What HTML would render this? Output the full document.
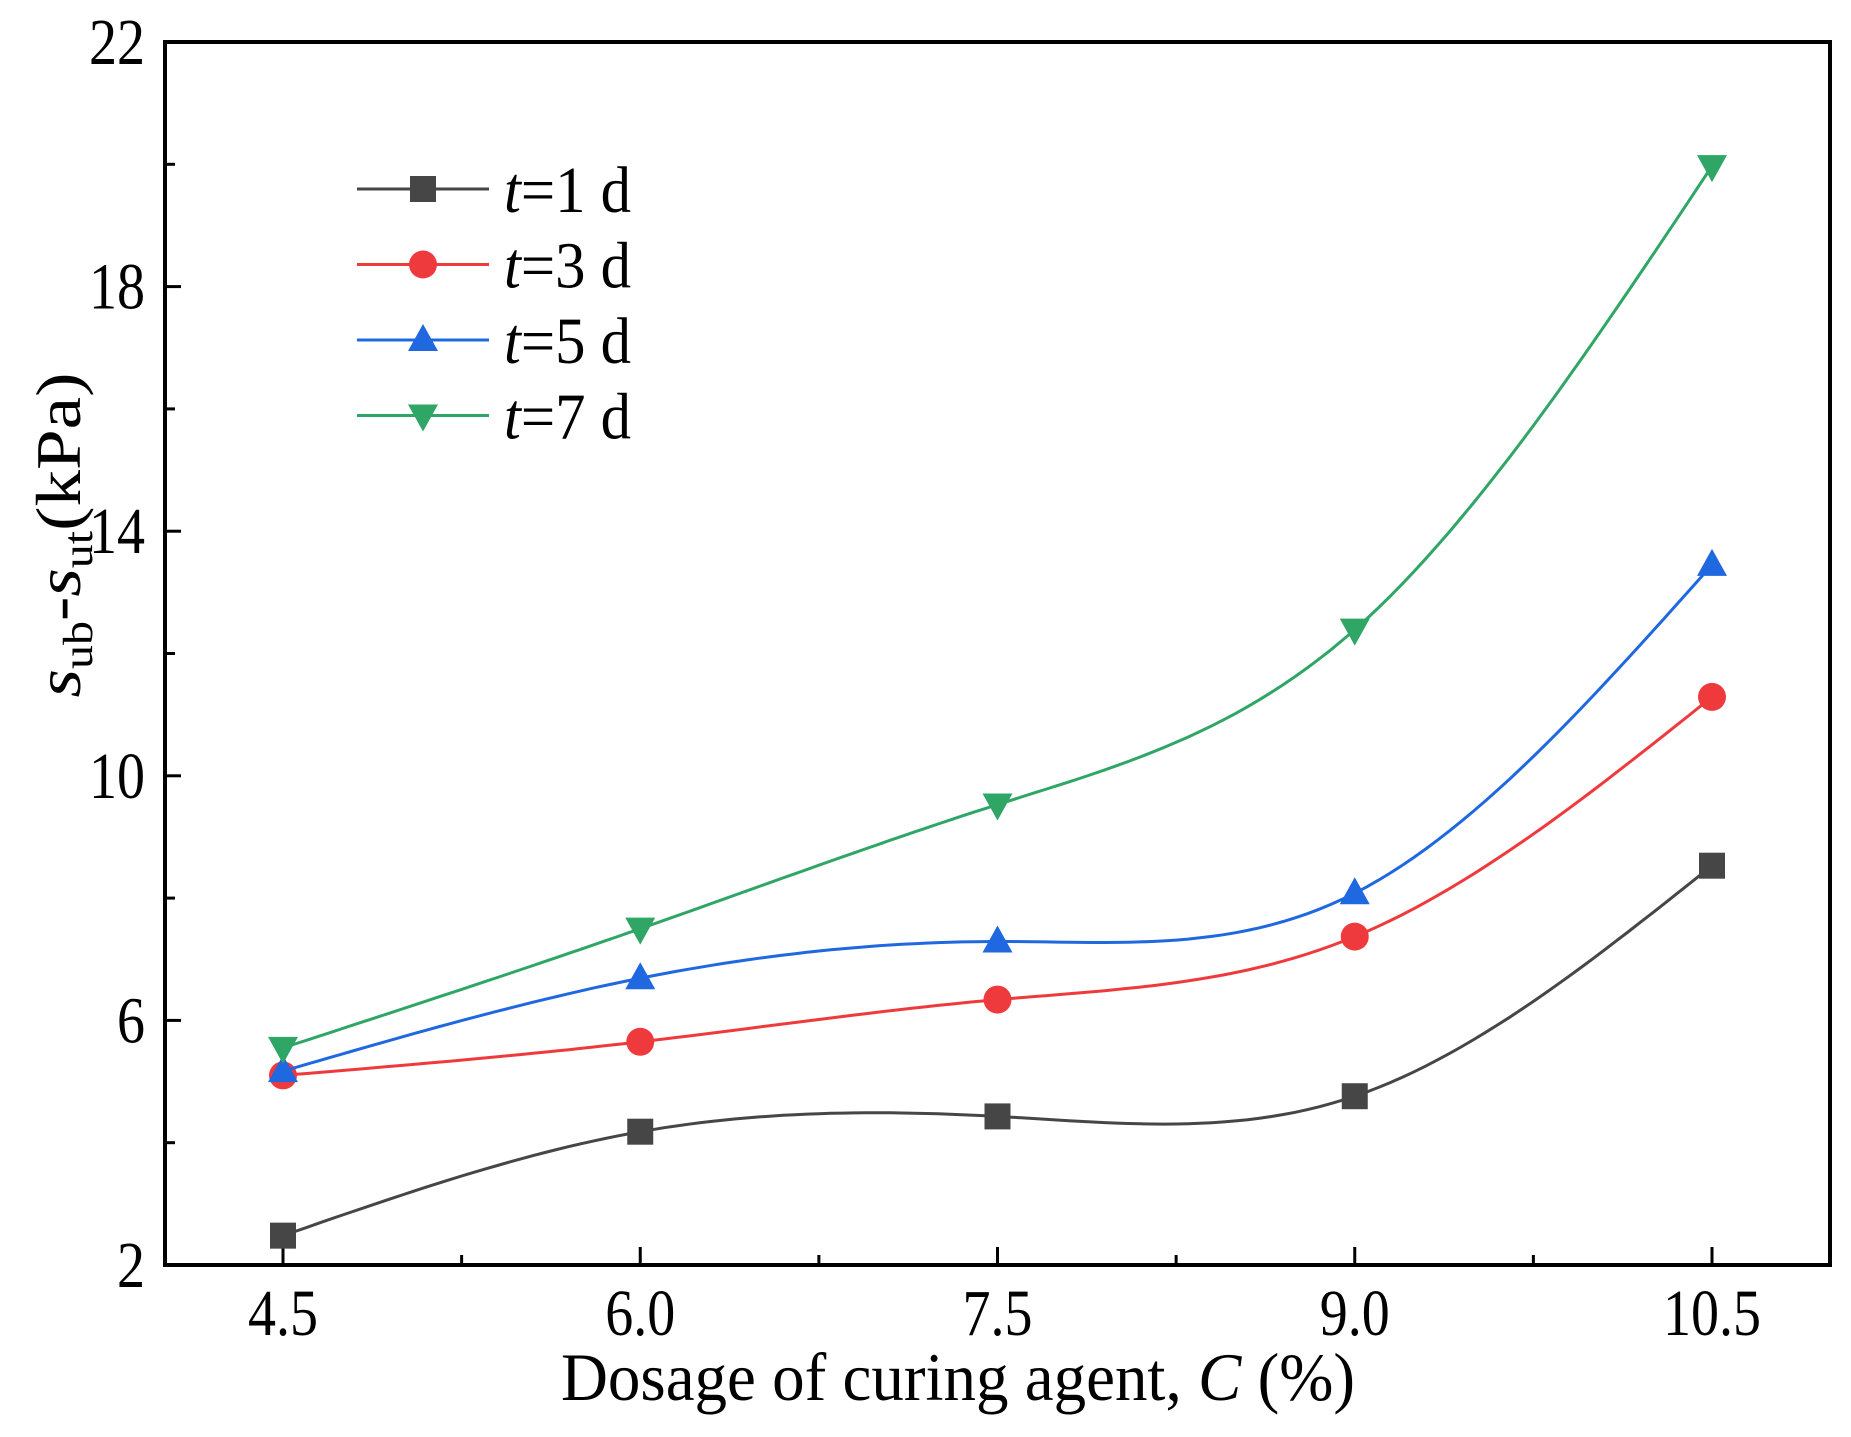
<!DOCTYPE html>
<html><head><meta charset="utf-8"><style>
html,body{margin:0;padding:0;background:#fff}
svg{display:block;font-family:"Liberation Serif",serif}
</style></head><body>
<svg id="chart" width="1851" height="1437" viewBox="0 0 1851 1437">
<g id="axes"></g>
<g id="series"></g>
<g id="legend"></g>
<text x="958" y="1400" font-size="68" text-anchor="middle" textLength="794" lengthAdjust="spacingAndGlyphs">Dosage of curing agent, <tspan font-style="italic">C</tspan> (%)</text>
<text transform="translate(80,535) rotate(-90)" font-size="64" text-anchor="middle" textLength="325" lengthAdjust="spacingAndGlyphs"><tspan font-style="italic">s</tspan><tspan font-size="42" dy="12">ub</tspan><tspan dy="-12">-</tspan><tspan font-style="italic">s</tspan><tspan font-size="42" dy="12">ut</tspan><tspan dy="-12">(kPa)</tspan></text>
</svg>
<script>
const categories=[4.5,6.0,7.5,9.0,10.5];
const xTickLabels=["4.5","6.0","7.5","9.0","10.5"];
const yTickValues=[2,6,10,14,18,22];
const seriesNames=["t=1 d","t=3 d","t=5 d","t=7 d"];
const s1=[2.48,4.18,4.43,4.76,8.53];
const s3=[5.1,5.65,6.34,7.37,11.29];
const s5=[5.17,6.69,7.29,8.08,13.45];
const s7=[5.55,7.5,9.53,12.39,19.97];

const NS="http://www.w3.org/2000/svg";
const L=165,R=1830,T=42,B=1265;
const xs=v=>283+(v-4.5)*(1712-283)/6;
const ys=v=>B-(v-2)*(B-T)/20;
function mk(tag,at,parent){const e=document.createElementNS(NS,tag);for(const k in at)e.setAttribute(k,at[k]);parent.appendChild(e);return e;}
function tall(t,big){const w=t.getComputedTextLength();t.setAttribute('font-size',big);t.setAttribute('textLength',w);t.setAttribute('lengthAdjust','spacingAndGlyphs');}
const axes=document.getElementById('axes');
let fr=mk('rect',{x:L,y:T,width:R-L,height:B-T,fill:'none',stroke:'#000','stroke-width':4},axes);


for(let v=2;v<=22;v+=2){
  const major=(v-2)%4===0;
  let t=mk('line',{x1:L,x2:L+(major?16:10),y1:ys(v),y2:ys(v),stroke:'#000','stroke-width':3},axes);
  
  
}
yTickValues.forEach(v=>{
  let t=mk('text',{x:L-20,y:ys(v)+22,'font-size':56,'text-anchor':'end'},axes);t.textContent=String(v);
  
  
  tall(t,66);
});
for(let i=0;i<=8;i++){
  const v=4.5+i*0.75, major=i%2===0;
  let t=mk('line',{x1:xs(v),x2:xs(v),y1:B,y2:B-(major?18:10),stroke:'#000','stroke-width':3},axes);
  
  
}
categories.forEach((c,i)=>{
  let t=mk('text',{x:xs(c),y:1335,'font-size':56,'text-anchor':'middle'},axes);t.textContent=xTickLabels[i];
  
  
  tall(t,66);
});
function spline(x,y){
  const n=x.length,h=[],a=[],l=[1],mu=[0],z=[0],c=new Array(n).fill(0),b=[],d=[];
  for(let i=0;i<n-1;i++)h.push(x[i+1]-x[i]);
  for(let i=1;i<n-1;i++)a[i]=3/h[i]*(y[i+1]-y[i])-3/h[i-1]*(y[i]-y[i-1]);
  for(let i=1;i<n-1;i++){l[i]=2*(x[i+1]-x[i-1])-h[i-1]*mu[i-1];mu[i]=h[i]/l[i];z[i]=(a[i]-h[i-1]*z[i-1])/l[i];}
  for(let j=n-2;j>=0;j--){c[j]=(j>0?z[j]-mu[j]*c[j+1]:0);b[j]=(y[j+1]-y[j])/h[j]-h[j]*(c[j+1]+2*c[j])/3;d[j]=(c[j+1]-c[j])/(3*h[j]);}
  const pts=[];
  for(let i=0;i<n-1;i++)for(let k=0;k<=30;k++){const dx=h[i]*k/30;pts.push([x[i]+dx,y[i]+b[i]*dx+c[i]*dx*dx+d[i]*dx*dx*dx]);}
  return pts;
}
const colors=["#464646","#ef3a3d","#1f68e0","#2fa666"];
const markers=["square","circle","up","down"];
const all=[s1,s3,s5,s7];
function marker(type,cx,cy,col,p){
  let e;
  if(type==='square')e=mk('rect',{x:cx-13,y:cy-13,width:26,height:26,fill:col},p);
  else if(type==='circle')e=mk('circle',{cx:cx,cy:cy,r:14,fill:col},p);
  else if(type==='up')e=mk('polygon',{points:`${cx},${cy-16} ${cx-15},${cy+11} ${cx+15},${cy+11}`,fill:col},p);
  else e=mk('polygon',{points:`${cx},${cy+16} ${cx-15},${cy-11} ${cx+15},${cy-11}`,fill:col},p);
  return e;
}
const sg=document.getElementById('series');
all.forEach((s,si)=>{
  const g=mk('g',{},sg);
  
  
  const pts=spline(categories,s);
  const p=mk('path',{d:pts.map((q,i)=>(i?'L':'M')+xs(q[0]).toFixed(1)+','+ys(q[1]).toFixed(1)).join(''),fill:'none',stroke:colors[si],'stroke-width':3},g);
  
  
  s.forEach((v,i)=>{
    const m=marker(markers[si],xs(categories[i]),ys(v),colors[si],g);
    
    
  });
});
const lg=document.getElementById('legend');
seriesNames.forEach((n,i)=>{
  const y=189+i*75.5;
  const g=mk('g',{},lg);
  
  
  mk('line',{x1:357,x2:489,y1:y,y2:y,stroke:colors[i],'stroke-width':3},g);
  marker(markers[i],423,y,colors[i],g);
  const t=mk('text',{x:504,y:y+23,'font-size':66,textLength:127,lengthAdjust:'spacingAndGlyphs'},g);
  const it=mk('tspan',{'font-style':'italic'},t);it.textContent='t';
  const r=mk('tspan',{},t);r.textContent=n.slice(1);
});
</script>
</body></html>
